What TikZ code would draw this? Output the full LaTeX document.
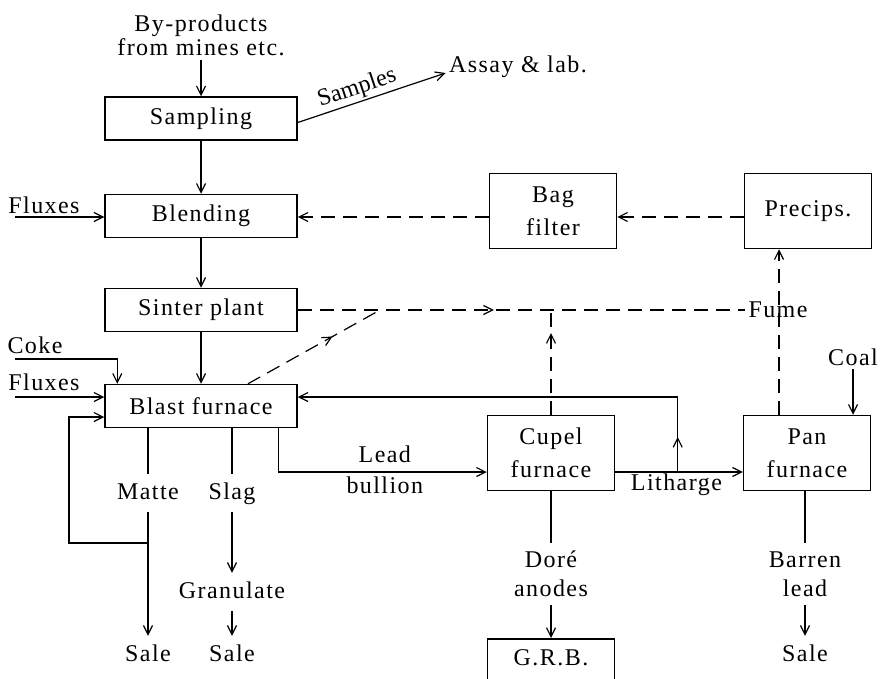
\documentclass[tikz,border=0pt]{standalone}
\usepackage{fontspec}
\setmainfont{Liberation Serif}[LetterSpace=6]
\usetikzlibrary{arrows.meta,calc,decorations.markings}
\tikzset{
  plant/.style={draw, line width=1.5pt, minimum width=192pt, minimum height=43pt, inner sep=0pt},
  tallplant/.style={draw, line width=1.5pt, minimum width=127pt, minimum height=75pt,
    inner sep=0pt, align=center, font=\fontsize{24}{33}\selectfont},
  flowtag/.style={inner sep=8pt, text height=17pt, text depth=5pt},
  wiretag/.style={inner sep=4pt, text height=17pt, text depth=5pt},
  twotag/.style={inner sep=8pt, align=center, font=\fontsize{24}{29}\selectfont},
  pipe/.style={line width=1.2pt},
  flow/.style={line width=1.2pt, -{Straight Barb[length=9pt, width=9pt]}},
  fumeflow/.style={line width=1.2pt, dash pattern=on 14pt off 8pt},
  midarrow/.style={postaction={decorate}, decoration={markings,
    mark=at position #1 with {\arrow{Straight Barb[length=9pt, width=9pt]}}}}
}
\begin{document}
\begin{tikzpicture}[x=1pt, y=-1pt, font=\fontsize{24}{29}\selectfont]
  \useasboundingbox (0,0) rectangle (880,679);
  \clip (0,0) rectangle (880,679);

  \node[plant] (sampling) at (201,118.5) {Sampling};
  \node[plant] (blending) at (201,216) {Blending};
  \node[plant] (sinter) at (201,310) {Sinter plant};
  \node[plant] (blast) at (201,406) {Blast furnace};
  \node[tallplant] (bagf) at (553,211) {Bag\\filter};
  \node[tallplant] (precips) at (808,211) {Precips.};
  \node[tallplant] (cupel) at (551,453) {Cupel\\furnace};
  \node[tallplant] (pan) at (807,453) {Pan\\furnace};
  \node[draw, line width=1.5pt, minimum width=127pt, inner sep=10pt, text height=17pt,
    text depth=40pt, anchor=north] (grb) at (551,638) {G.R.B.};

  \node[twotag, inner sep=4pt, font=\fontsize{24}{24}\selectfont] (byprod) at (201,35)
    {By-products\\from mines etc.};
  \node (assay) at (518,67) {Assay \& lab.};
  \node (fluxa) at (44,205) {Fluxes};
  \node (coke) at (35,345) {Coke};
  \node (fluxb) at (44,382) {Fluxes};
  \node (coal) at (853,357) {Coal};
  \node (fume) at (778,310) {Fume};
  \node[flowtag] (matte) at (148,493) {Matte};
  \node[flowtag] (slag) at (232,493) {Slag};
  \node[flowtag] (granulate) at (232,592) {Granulate};
  \node[flowtag] (sale1) at (148,655) {Sale};
  \node[flowtag] (sale2) at (232,655) {Sale};
  \node[twotag] (dore) at (551,574) {Doré\\anodes};
  \node[twotag] (barren) at (805,574) {Barren\\lead};
  \node[flowtag] (sale3) at (805,655) {Sale};

  \coordinate (fluxain) at (15,217);
  \coordinate (cokein) at (15,359);
  \coordinate (fluxbin) at (15,397);
  \coordinate (fumej) at (380,310);
  \coordinate (mattej) at (148,543);

  \draw[flow] (byprod) -- (sampling);
  \draw[flow] ([yshift=-4pt]sampling.east) -- ([yshift=-6pt]assay.west)
    node[sloped, above, inner sep=2pt, pos=0.43, font=\fontsize{24}{29}\selectfont\addfontfeatures{LetterSpace=0}] {Samples};
  \draw[flow] (sampling) -- (blending);
  \draw[flow] (fluxain) -- ([yshift=-1pt]blending.west);
  \draw[flow] (blending) -- (sinter);
  \draw[flow] (sinter) -- (blast);
  \draw[flow] (cokein) -| ([xshift=13pt]blast.north west);
  \draw[flow] (fluxbin) -- ([yshift=9pt]blast.west);

  \draw[fumeflow, -{Straight Barb[length=9pt, width=9pt]}] ([yshift=-6pt]precips.west) -- ([yshift=-6pt]bagf.east);
  \draw[fumeflow, -{Straight Barb[length=9pt, width=9pt]}] ([yshift=-6pt]bagf.west) -- ([yshift=-1pt]blending.east);
  \draw[fumeflow, midarrow=196pt] (sinter.east) -- (fume.west);
  \draw[fumeflow, midarrow=0.64] ([xshift=47pt]blast.north) -- (fumej);
  \draw[fumeflow, midarrow=0.78] (cupel.north) -- (cupel.north |- fumej);
  \draw[fumeflow, -{Straight Barb[length=9pt, width=9pt]}] ([xshift=-28pt]pan.north) -- ([xshift=-29pt]precips.south);
  \draw[flow] (coal) -- (coal |- pan.north);

  \draw[pipe] (blast.south -| matte) -- (matte);
  \draw[flow] (matte) -- (sale1);
  \draw[flow] (mattej) -- ++(-79,0) |- ([yshift=-11pt]blast.west);
  \draw[pipe] (blast.south -| slag) -- (slag);
  \draw[flow] (slag) -- (granulate);
  \draw[flow] (granulate) -- (sale2);

  \draw[flow] ([xshift=-19pt]blast.south east) |- ([yshift=-19pt]cupel.west)
    node[wiretag, above, pos=0.755] {Lead}
    node[wiretag, below, pos=0.755] {bullion};
  \draw[flow] ([yshift=-19pt]cupel.east) -- ([yshift=-19pt]pan.west)
    coordinate[pos=0.49] (lthj)
    node[wiretag, below, inner sep=1pt, pos=0.48] {Litharge};
  \draw[flow, midarrow=35pt] (lthj) |- ([yshift=9pt]blast.east);

  \draw[pipe] (cupel) -- (dore);
  \draw[flow] (dore) -- (grb);
  \draw[pipe] (pan.south -| barren) -- (barren);
  \draw[flow] (barren) -- (sale3);
\end{tikzpicture}
\end{document}
